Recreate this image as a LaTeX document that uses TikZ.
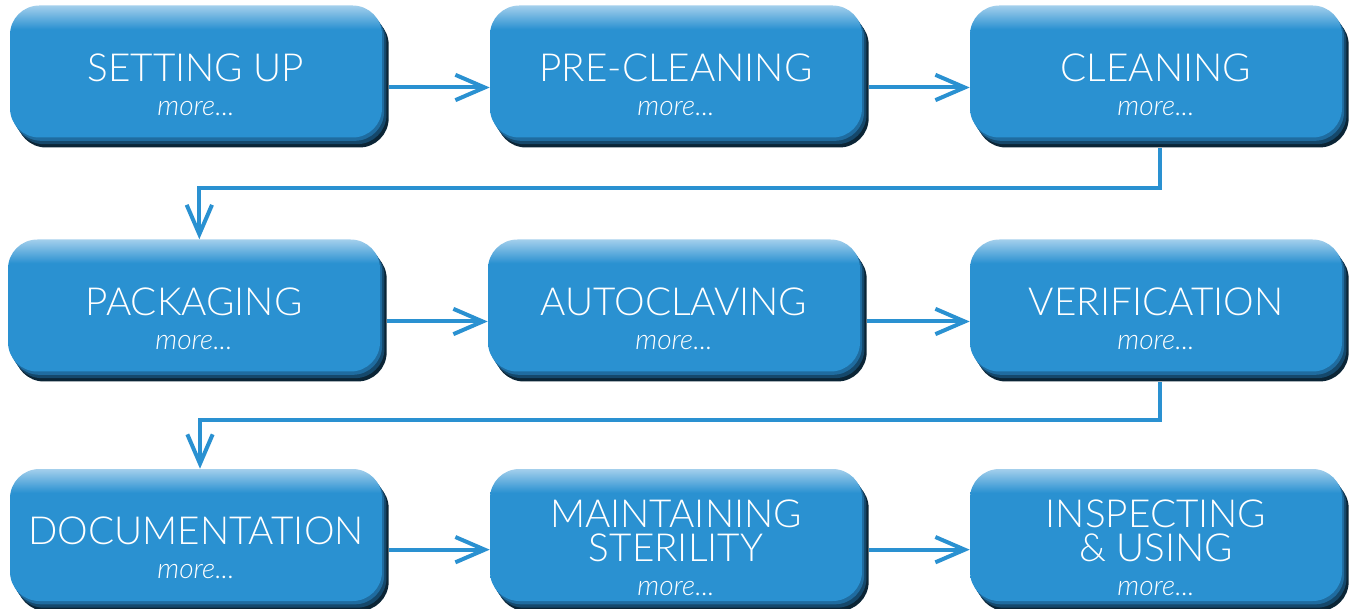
\documentclass[tikz,border=0pt]{standalone}
\usepackage{fontspec}
\setmainfont{Lato}[UprightFont=* Light, ItalicFont=* Light Italic]
\usetikzlibrary{arrows.meta,shadows,calc}
\definecolor{boxblue}{HTML}{2A91D1}
\definecolor{boxlight}{HTML}{A3CFEC}
\definecolor{boxdark}{HTML}{0B2536}
\definecolor{boxmid}{HTML}{15486B}
\definecolor{boxedge}{HTML}{1F6CA0}
\pgfdeclareverticalshading{boxshade}{100bp}{color(0bp)=(boxblue); color(66bp)=(boxblue); color(75bp)=(boxlight); color(100bp)=(boxlight)}
\newcommand{\titlefont}{\fontsize{29pt}{25.5pt}\selectfont}
\newcommand{\toptitle}{\titlefont\rule{0pt}{40pt}}
\newcommand{\morefont}{\fontsize{21pt}{25.5pt}\selectfont\itshape}
\begin{document}
\begin{tikzpicture}
		[x=0.75pt,y=-0.75pt,
		stepbox/.style={rectangle,rounded corners=22pt,minimum width=279pt,minimum height=99pt,
			shading=boxshade,text=white,align=center,inner sep=0pt,
			font=\fontsize{29pt}{25.5pt}\selectfont,
			drop shadow={shadow xshift=5pt,shadow yshift=-7.5pt,fill=boxdark,opacity=1},
			drop shadow={shadow xshift=3.3pt,shadow yshift=-5pt,fill=boxmid,opacity=1},
			drop shadow={shadow xshift=1.6pt,shadow yshift=-2.5pt,fill=boxedge,opacity=1}},
		flow/.style={draw=boxblue,line width=3pt,-{Straight Barb[length=22pt,width=19pt]}}]
		\useasboundingbox (0,0) rectangle (1353,609);
		% first row
		\node[stepbox] (setup) at (196,71.5) {\toptitle SETTING UP\\\morefont more...};
		\node[stepbox] (preclean) at (676,71.5) {\toptitle PRE-CLEANING\\\morefont more...};
		\node[stepbox] (clean) at (1156,71.5) {\toptitle CLEANING\\\morefont more...};
		% second row
		\node[stepbox] (pack) at (194,305.5) {\toptitle PACKAGING\\\morefont more...};
		\node[stepbox] (autoclave) at (674,305.5) {\toptitle AUTOCLAVING\\\morefont more...};
		\node[stepbox] (verify) at (1156,305.5) {\toptitle VERIFICATION\\\morefont more...};
		% third row
		\node[stepbox] (docs) at (196,535) {\toptitle DOCUMENTATION\\\morefont more...};
		\node[stepbox] (sterile) at (676,535) {\toptitle MAINTAINING\\\titlefont STERILITY\\\morefont more...};
		\node[stepbox] (inspect) at (1156,535) {\toptitle INSPECTING\\\titlefont \& USING\\\morefont more...};
		% arrows
		\draw[flow] ([xshift=5pt,yshift=-12pt]setup.east) -- ([yshift=-12pt]preclean.west);
		\draw[flow] ([xshift=5pt,yshift=-12pt]preclean.east) -- ([yshift=-12pt]clean.west);
		\draw[flow] ([xshift=3pt,yshift=-8pt]clean.south) -- ++(0,40) -| ([xshift=4pt]pack.north);
		\draw[flow] ([xshift=5pt,yshift=-12pt]pack.east) -- ([yshift=-12pt]autoclave.west);
		\draw[flow] ([xshift=5pt,yshift=-12pt]autoclave.east) -- ([yshift=-12pt]verify.west);
		\draw[flow] ([xshift=3pt,yshift=-8pt]verify.south) -- ++(0,38) -| ([xshift=3pt]docs.north);
		\draw[flow] ([xshift=5pt,yshift=-11pt]docs.east) -- ([yshift=-11pt]sterile.west);
		\draw[flow] ([xshift=5pt,yshift=-11pt]sterile.east) -- ([yshift=-11pt]inspect.west);
	\end{tikzpicture}
\end{document}
